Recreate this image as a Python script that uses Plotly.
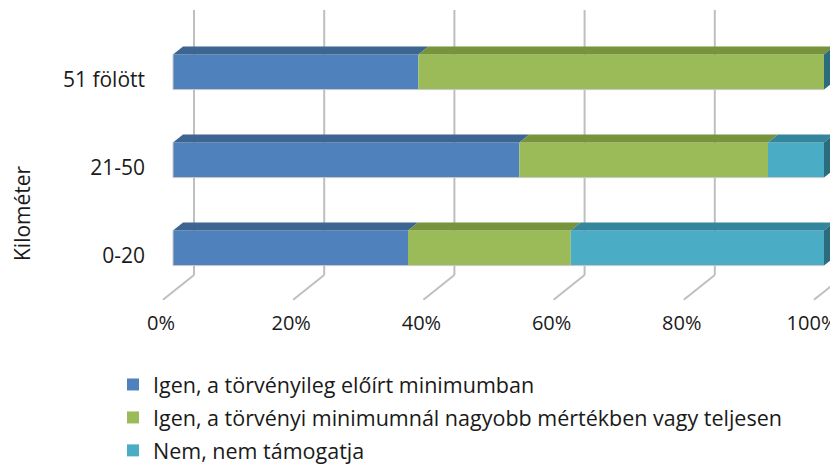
import plotly.graph_objects as go

# ---- data ----
categories = ["0-20", "21-50", "51 fölött"]
series_names = [
    "Igen, a törvényileg előírt minimumban",
    "Igen, a törvényi minimumnál nagyobb mértékben vagy teljesen",
    "Nem, nem támogatja",
]
igen_min = [36.1, 53.2, 37.7]
igen_tobb = [25.0, 38.2, 62.3]
nem = [38.9, 8.6, 0.0]
x_ticks = [0, 20, 40, 60, 80, 100]
x_ticktext = ["0%", "20%", "40%", "60%", "80%", "100%"]
axis_title = "Kilométer"

# ---- styles ----
front = ["#4F81BD", "#9BBB59", "#4BACC6"]
top = ["#3C6592", "#77933C", "#33869C"]
side = ["#2E5A8A", "#637C32", "#2B6C7D"]
grid_col = "#BFBFBF"
FONT = "Open Sans"
TXT = "#1a1a1a"

# page offset (default body margin of the html page)
OFF = 8

# geometry (axis units)
PXX = 6.51          # px per percent
PXY = 88.0          # px per category
H = 0.2             # half bar thickness
DDX = 10 / PXX      # depth offset (x) for bar depth
DDY = 8 / PXY       # depth offset (y) for bar depth
WALL_D = 2.1        # wall depth in bar-depth units
FLOOR_D = -1.0      # floor front depth
Y_WALL_BOTTOM = -0.307
Y_GRID_TOP = 2.705

# target positions in screen pixels
X0_SCR, Y0_SCR = 173, 248          # 0 % / first category centre
L_SCR, T_SCR, B_SCR, R_SCR = 146, 8, 309, 838
W, HGT = 838 - OFF, 465 - OFF

x_range = [(L_SCR - X0_SCR) / PXX, (R_SCR - X0_SCR) / PXX]
y_range = [(Y0_SCR - B_SCR) / PXY, (Y0_SCR - T_SCR) / PXY]

fig = go.Figure()
series = [igen_min, igen_tobb, nem]
ypos = list(range(len(categories)))

# front faces (bars)
for k, vals in enumerate(series):
    bases = [sum(series[j][i] for j in range(k)) for i in range(len(categories))]
    fig.add_trace(go.Bar(
        orientation="h", y=ypos, x=vals, base=bases, width=2 * H,
        marker=dict(color=front[k], line=dict(width=0)),
        name=series_names[k], legendgroup=str(k),
        hoverinfo="skip",
    ))

# top faces
for k, vals in enumerate(series):
    for i in ypos:
        x0 = sum(series[j][i] for j in range(k))
        x1 = x0 + vals[i]
        if vals[i] <= 0:
            continue
        yt = i + H
        fig.add_trace(go.Scatter(
            x=[x0, x1, x1 + DDX, x0 + DDX, x0],
            y=[yt, yt, yt + DDY, yt + DDY, yt],
            mode="lines", fill="toself", fillcolor=top[k],
            line=dict(width=0, color=top[k]), showlegend=False, hoverinfo="skip",
        ))

# right side faces (last series colour)
for i in ypos:
    tot = sum(s[i] for s in series)
    fig.add_trace(go.Scatter(
        x=[tot, tot, tot + DDX, tot + DDX, tot],
        y=[i - H, i + H, i + H + DDY, i - H + DDY, i - H],
        mode="lines", fill="toself", fillcolor=side[-1],
        line=dict(width=0, color=side[-1]), showlegend=False, hoverinfo="skip",
    ))
    # light outline at left and bottom edge
    fig.add_trace(go.Scatter(
        x=[0, 0, tot], y=[i + H, i - H, i - H], mode="lines",
        line=dict(width=1, color="#C8C8C8"), showlegend=False, hoverinfo="skip",
    ))

# back-wall gridlines and floor lines (below traces)
for t in x_ticks:
    xw = t + WALL_D * DDX
    fig.add_shape(type="line", xref="x", yref="y", x0=xw, x1=xw,
                  y0=Y_WALL_BOTTOM, y1=Y_GRID_TOP, layer="below",
                  line=dict(color=grid_col, width=2))
    fig.add_shape(type="line", xref="x", yref="y", x0=xw, y0=Y_WALL_BOTTOM,
                  x1=t + FLOOR_D * DDX, y1=Y_WALL_BOTTOM + (FLOOR_D - WALL_D) * DDY,
                  layer="below", line=dict(color=grid_col, width=2))

plot_w = R_SCR - L_SCR
plot_h = B_SCR - T_SCR
fig.add_annotation(text=axis_title, xref="paper", yref="paper",
                   x=(22 - L_SCR) / plot_w, y=(B_SCR - 213) / plot_h,
                   xanchor="center", yanchor="middle",
                   textangle=-90, showarrow=False,
                   font=dict(family=FONT, size=21, color=TXT))

fig.update_layout(
    width=W, height=HGT,
    margin=dict(l=L_SCR - OFF, r=0, t=T_SCR - OFF, b=HGT - (B_SCR - OFF),
                pad=0, autoexpand=False),
    paper_bgcolor="white", plot_bgcolor="white",
    barmode="overlay", showlegend=True,
    xaxis=dict(range=x_range, showgrid=False, zeroline=False, showline=False,
               automargin=False, ticklabeloverflow="allow", ticklabelshift=-2,
               tickvals=[t + FLOOR_D * DDX for t in x_ticks], ticktext=x_ticktext,
               ticks="", tickfont=dict(family=FONT, size=20, color=TXT)),
    yaxis=dict(range=y_range, showgrid=False, zeroline=False, showline=False,
               automargin=False,
               tickvals=[i + FLOOR_D * DDY for i in ypos], ticktext=categories,
               ticks="", tickfont=dict(family=FONT, size=21, color=TXT)),
    legend=dict(orientation="v", x=(113 - L_SCR) / plot_w, xanchor="left",
                y=(B_SCR - 364) / plot_h, yanchor="top", traceorder="grouped",
                tracegroupgap=2, bgcolor="rgba(0,0,0,0)",
                font=dict(family=FONT, size=21.5, color=TXT)),
)

fig.write_html("out.html")
